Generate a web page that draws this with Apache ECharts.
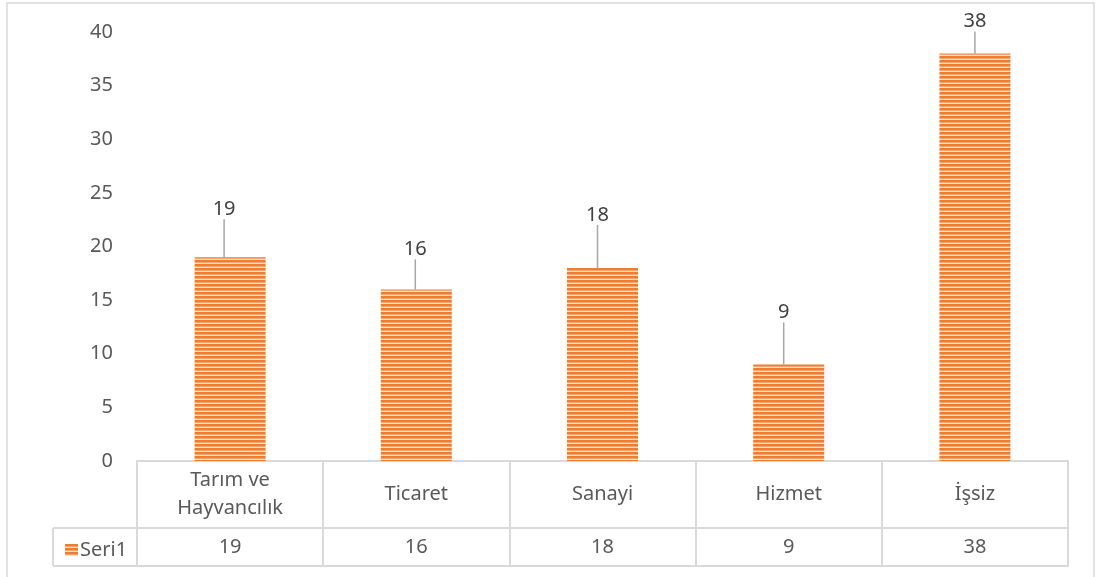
<!DOCTYPE html>
<html><head><meta charset="utf-8">
<script src="https://cdn.jsdelivr.net/npm/echarts@6/dist/echarts.min.js"></script>
<style>html,body{margin:0;padding:0;background:#fff;}#c{width:1097px;height:577px;}</style>
</head><body><div id="c"></div>
<script>
var categories = ['Tarım ve\nHayvancılık', 'Ticaret', 'Sanayi', 'Hizmet', 'İşsiz'];
var values = [19, 16, 18, 9, 38];
var seriesName = 'Seri1';
var yTicks = {min: 0, max: 40, interval: 5};
// label placement (style)
var labelGap = [48, 40, 53, 52, 32];
var labelDx = [-6, -1, -5, -5, 0];

var cv = document.createElement('canvas');
cv.width = 4; cv.height = 4;
var ctx = cv.getContext('2d');
ctx.fillStyle = '#ED7D31'; ctx.fillRect(0, 0, 4, 2);
ctx.fillStyle = '#F4A470'; ctx.fillRect(0, 2, 4, 1);
ctx.fillStyle = '#FCE0CC'; ctx.fillRect(0, 3, 4, 1);

var font = 'Noto Sans';
var fs = 20;
var lineC = '#D9D9D9';
var chart = echarts.init(document.getElementById('c'));
chart.setOption({
  backgroundColor: '#fff',
  textStyle: {fontFamily: font},
  grid: {left: 137, right: 29, top: 32, bottom: 116},
  legend: {
    data: [seriesName], left: 60, top: 535, itemWidth: 13, itemHeight: 12, itemGap: 4,
    textStyle: {fontSize: fs, color: '#595959', fontFamily: font, padding: [0, 0, 0, -3]}, icon: 'rect'
  },
  xAxis: [{
    type: 'category', data: categories, position: 'bottom',
    axisLine: {show: true, lineStyle: {color: lineC, width: 2}},
    axisTick: {show: true, length: 105, lineStyle: {color: lineC, width: 2}},
    axisLabel: {margin: 33, verticalAlign: 'middle', lineHeight: 28, fontSize: fs, color: '#595959', fontFamily: font, interval: 0}
  }, {
    type: 'category', data: values.map(String), position: 'bottom', offset: 67,
    axisLine: {show: true, lineStyle: {color: lineC, width: 2}},
    axisTick: {show: false},
    axisLabel: {margin: 19, verticalAlign: 'middle', fontSize: fs, color: '#595959', fontFamily: font, interval: 0}
  }, {
    type: 'category', data: categories, position: 'bottom', offset: 105,
    axisLine: {show: true, lineStyle: {color: lineC, width: 2}},
    axisTick: {show: false}, axisLabel: {show: false}
  }],
  yAxis: {
    type: 'value', min: yTicks.min, max: yTicks.max, interval: yTicks.interval,
    axisLine: {show: false}, axisTick: {show: false}, splitLine: {show: false},
    axisLabel: {margin: 24, fontSize: fs, color: '#595959', fontFamily: font}
  },
  series: [{
    name: seriesName, type: 'bar', data: values, barWidth: 71, xAxisIndex: 0,
    itemStyle: {color: {image: cv, repeat: 'repeat'}},
    label: {show: true, position: 'top', fontSize: fs, color: '#404040', fontFamily: font},
    labelLine: {show: true, lineStyle: {color: '#A6A6A6', width: 1.5}},
    labelLayout: function (p) {
      var i = p.dataIndex;
      return {x: p.rect.x + p.rect.width / 2 + labelDx[i], y: p.rect.y - labelGap[i], align: 'center', verticalAlign: 'middle'};
    }
  }],
  graphic: [
    {type: 'rect', shape: {x: 7, y: 3, width: 1087, height: 590}, style: {fill: 'none', stroke: lineC, lineWidth: 1.5}, silent: true},
    {type: 'line', shape: {x1: 53, y1: 528, x2: 137, y2: 528}, style: {stroke: lineC, lineWidth: 2}},
    {type: 'line', shape: {x1: 53, y1: 566, x2: 137, y2: 566}, style: {stroke: lineC, lineWidth: 2}},
    {type: 'line', shape: {x1: 53, y1: 528, x2: 53, y2: 566}, style: {stroke: lineC, lineWidth: 2}}
  ]
});
</script></body></html>
